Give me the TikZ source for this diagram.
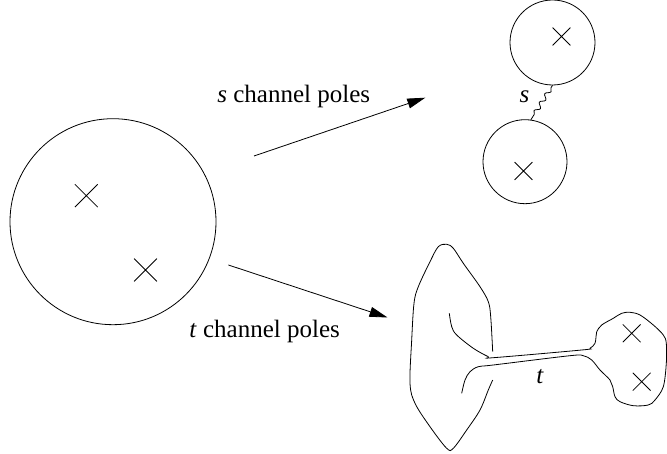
\documentclass[tikz,border=0pt]{standalone}
\usepackage{fontspec}
\setmainfont{Liberation Serif}
\usetikzlibrary{shapes.misc,arrows.meta,decorations.pathmorphing}
\begin{document}
\begin{tikzpicture}[x=1pt,y=-1pt, line width=0.8pt,
  pole/.style={draw, cross out, minimum size=#1, inner sep=0pt, line width=0.8pt},
  region/.style={draw, circle, minimum size=#1, inner sep=0pt, line width=0.8pt},
  txt/.style={font=\rmfamily\fontsize{25}{30}\selectfont, inner sep=0pt},
  arr/.style={-{Triangle[length=18pt,width=10pt]}},
  wave/.style={decorate, decoration={snake, amplitude=2.2pt, segment length=10pt, pre length=3pt, post length=3pt}}]
\useasboundingbox (0,0) rectangle (667,454);

% initial configuration
\node[region=206pt] (big) at (113,221.7) {};
\node[pole=22pt] (p1) at (86.3,195.7) {};
\node[pole=22pt] (p2) at (145.5,270) {};

% s channel
\node[region=85pt] (top) at (552.5,42.5) {};
\node[pole=17pt] (q1) at (561.5,36.5) {};
\node[region=84pt] (bot) at (525,161.7) {};
\node[pole=17pt] (q2) at (523.5,171) {};
\draw[wave] (top.south) -- (bot.82);
\node[txt, anchor=base] (s) at (524.5,102.5) {\textit{s}};

% arrows and labels
\coordinate (sa) at (254,156);
\coordinate (sb) at (425.3,97.7);
\draw[arr] (sa) -- (sb);
\node[txt, anchor=base west] (slab) at (217,103) {\textit{s} channel poles};
\coordinate (ta) at (228.4,265);
\coordinate (tb) at (387.5,317.5);
\draw[arr] (ta) -- (tb);
\node[txt, anchor=base west] (tlab) at (189,338) {\textit{t} channel poles};

% t channel
\draw plot[smooth, tension=0.55] coordinates {
 (492.7,351.7) (490.7,316.7) (488.3,301.7) (480,286.7) (463.3,263.3) (453.3,248.3)
 (446.7,244.3) (438.3,246.7) (430,261.7) (418.3,286.7) (414,303.3) (411.7,340)
 (410,383.3) (415,403.3) (430,426.7) (446.7,448.3) (453.3,448.3) (466.7,430)
 (480,410) (488.3,390) (492.7,380)};
\draw plot[smooth, tension=0.55] coordinates {
 (449.3,313.3) (451.7,326.7) (456.7,335) (473.3,348.3) (488.3,356.7) (493.3,357.7)
 (581.7,350) (590,348.3) (595,343.3) (596,336.7) (596.7,331.7) (601.7,325)
 (613.3,318.3) (621.7,313.3) (630,312.3) (640,315) (653.3,325) (663.3,335)
 (666.3,343.3) (666.3,363.3) (663.3,386.7) (655,400) (648.3,405) (633.3,405.7)
 (620,401.7) (615,396.7) (612.7,386.7) (610,380) (600,370) (591.7,360)
 (583.3,355.7) (570,355.7) (493.3,365) (478.3,366.7) (470,371.7) (465,380) (461.7,393.3)};
\node[pole=17pt] (r1) at (631.7,333.3) {};
\node[pole=17pt] (r2) at (641.7,381.7) {};
\node[txt, anchor=base] (t) at (540,384) {\textit{t}};
\end{tikzpicture}
\end{document}
